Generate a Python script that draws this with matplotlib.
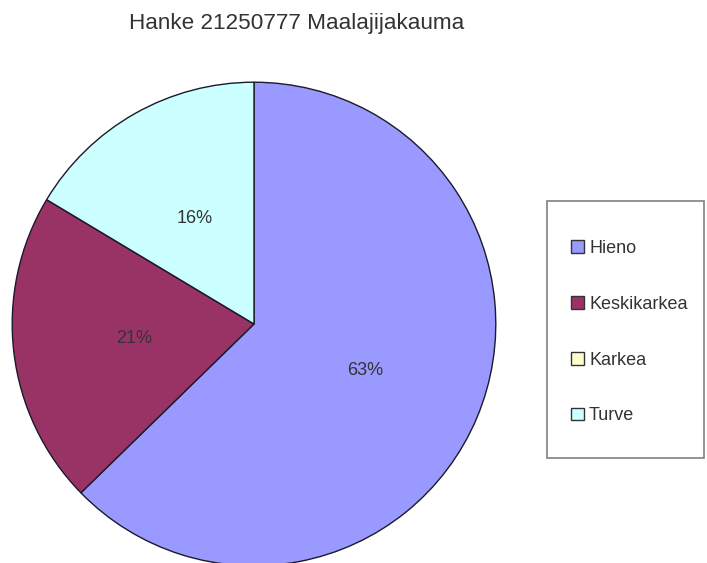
import matplotlib.pyplot as plt
from matplotlib.patches import Rectangle

# data
labels = ['Hieno', 'Keskikarkea', 'Karkea', 'Turve']
shares = [62.7, 20.9, 0, 16.4]
colors = ['#9999ff', '#993366', '#ffffcc', '#ccffff']
title = 'Hanke 21250777 Maalajijakauma'

plt.rcParams['font.family'] = ['Liberation Sans', 'DejaVu Sans']
text_color = '#333333'

W, H = 707, 563
fig = plt.figure(figsize=(W / 100, H / 100), dpi=100)

# pie axes: centre (254, 324) px, radius 243 px
cx, cy, r = 254, 324, 243
ax = fig.add_axes([(cx - r) / W, (H - cy - r) / H, 2 * r / W, 2 * r / H])


def pct_label(p):
    return f'{p:.0f}%' if p > 0.5 else ''


wedges, _, autotexts = ax.pie(
    shares, colors=colors, startangle=90, counterclock=False,
    autopct=pct_label, pctdistance=0.5, radius=1,
    wedgeprops=dict(edgecolor='#1a1a2a', linewidth=1.0),
    textprops=dict(color=text_color, fontsize=13))
ax.set_xlim(-1.005, 1.005)
ax.set_ylim(-1.005, 1.005)
ax.set_aspect('equal')
ax.axis('off')

fig.text(297 / W, 1 - 24 / H, title, ha='center', va='center',
         fontsize=16.2, color=text_color)

# legend box
fig.patches.append(Rectangle((547 / W, 1 - 458 / H), 157 / W, 257 / H,
                             transform=fig.transFigure, fill=False,
                             edgecolor='#808080', linewidth=1.2))

leg = fig.legend(wedges, labels, loc='upper left',
                 bbox_to_anchor=(571 / W, 1 - 240 / H),
                 frameon=False, fontsize=13,
                 labelspacing=2.15, handlelength=0.7, handleheight=0.7,
                 handletextpad=0.3, borderpad=0, borderaxespad=0,
                 labelcolor=text_color)
for h in leg.legend_handles:
    h.set_linewidth(1.0)
    h.set_edgecolor('#333333')

fig.savefig('out.png', dpi=100)
